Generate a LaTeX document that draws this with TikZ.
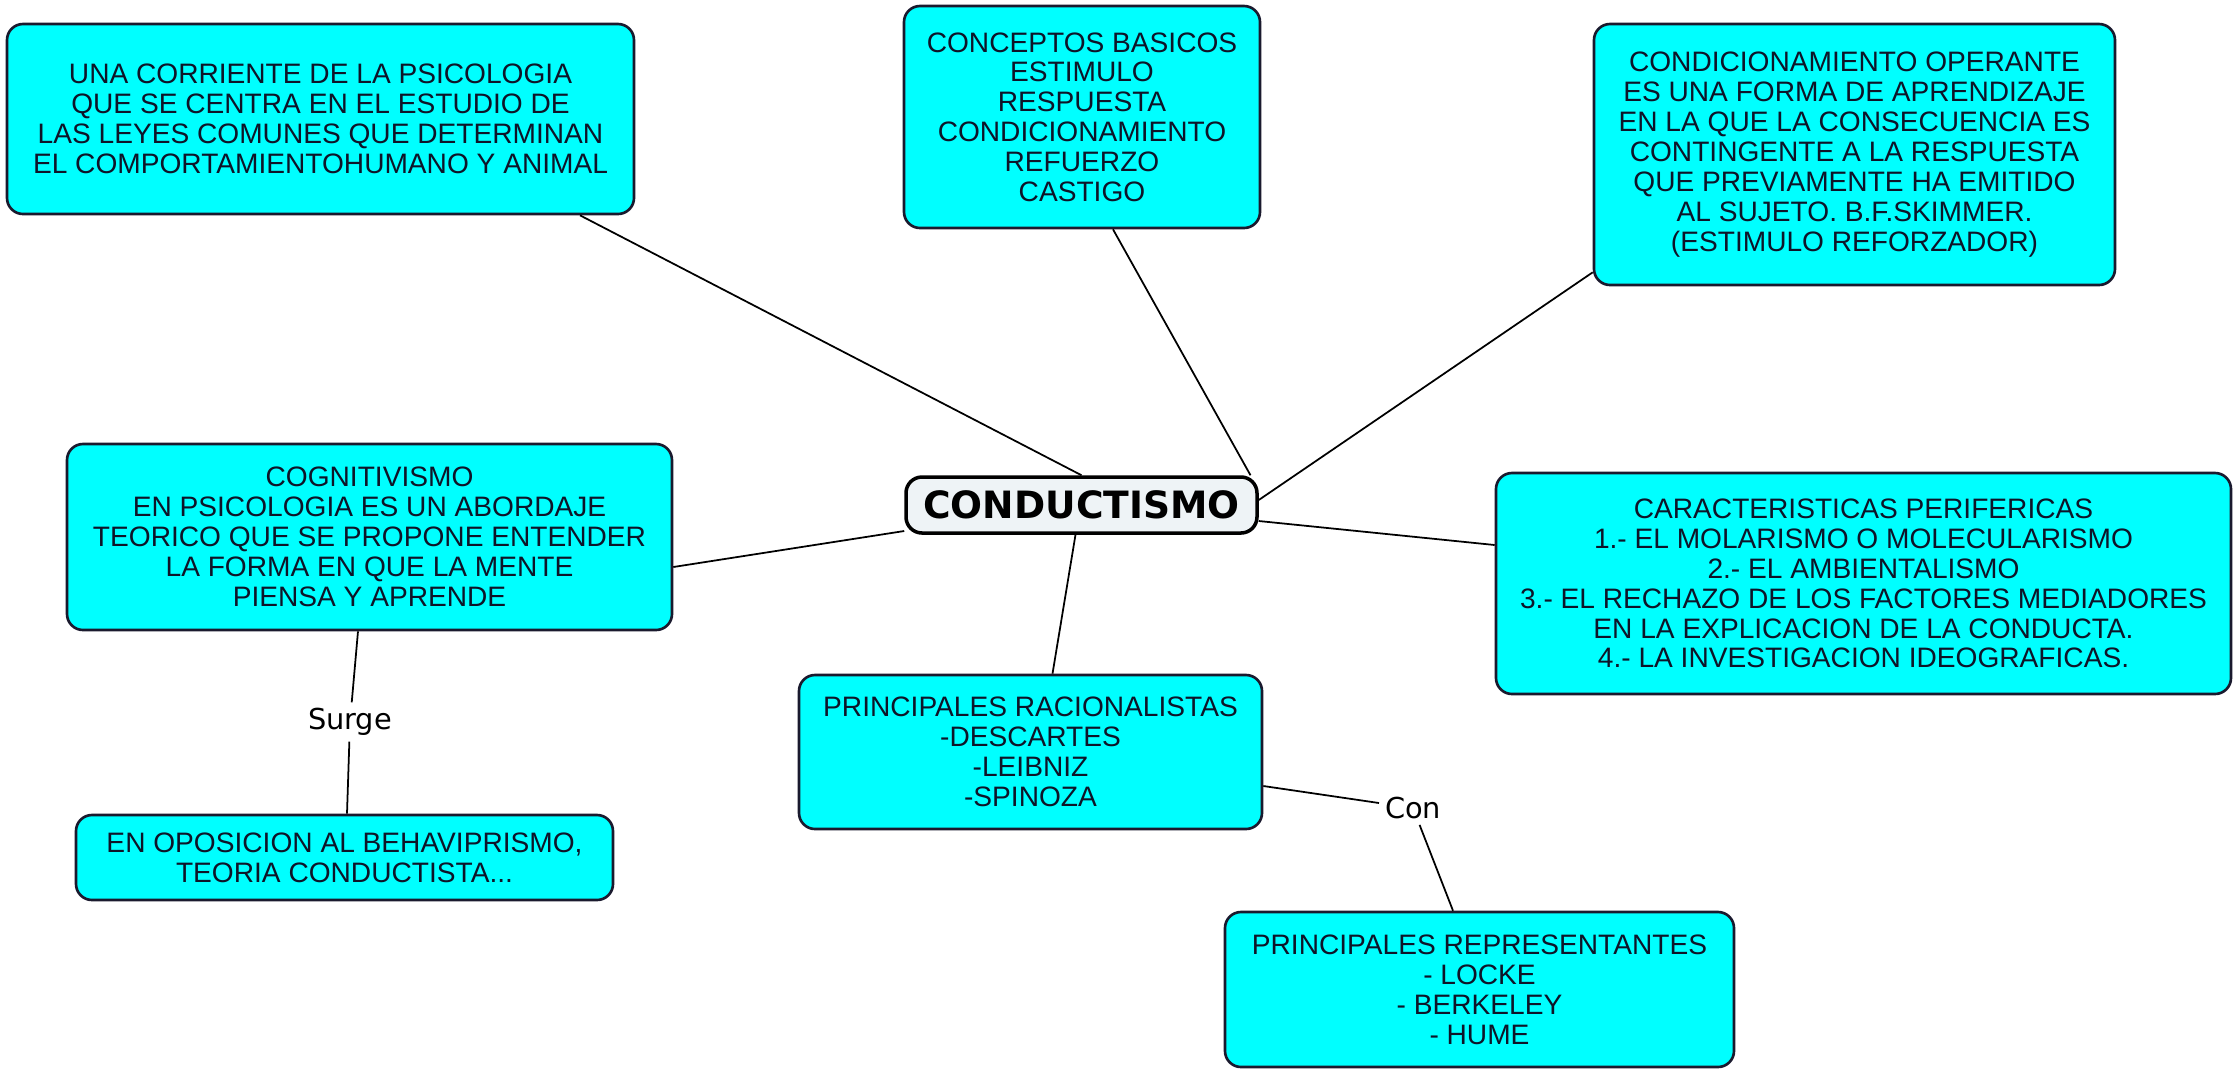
\documentclass[tikz,border=0pt]{standalone}
\usepackage{fontspec}
\setmainfont{Liberation Sans}
\newfontfamily\verdana{DejaVu Sans}
\usepackage{tikz}
\usetikzlibrary{calc}

\definecolor{boxcyan}{HTML}{00FFFF}
\definecolor{hubfill}{HTML}{EEF3F6}
\definecolor{edgedark}{HTML}{1A1A2E}
\definecolor{inkdark}{HTML}{0E1428}

\begin{document}
\begin{tikzpicture}[
    x=0.1mm, y=-0.1mm,
    box/.style={rectangle, draw=edgedark, line width=0.75pt, fill=boxcyan, text=inkdark, rounded corners=1.6mm, align=center, inner sep=0pt, font=\fontsize{8}{8.5}\selectfont},
    hub/.style={rectangle, draw=black, line width=1pt, fill=hubfill, rounded corners=1.6mm, minimum width=35.1mm, minimum height=5.6mm, font=\verdana\bfseries\fontsize{10.7}{12}\selectfont},
    link/.style={draw=black, line width=0.5pt},
    lbl/.style={inner sep=1.5pt, font=\verdana\fontsize{8.2}{10}\selectfont}
]
    \useasboundingbox (0,0) rectangle (2234,1072);

    \node[hub] (cond) at (1081.5,505) {CONDUCTISMO};

    \node[box, minimum width=62.7mm, minimum height=19mm] (corriente) at (320.5,119)
        {UNA CORRIENTE DE LA PSICOLOGIA\\QUE SE CENTRA EN EL ESTUDIO DE\\LAS LEYES COMUNES QUE DETERMINAN\\EL COMPORTAMIENTOHUMANO Y ANIMAL};
    \node[box, minimum width=35.6mm, minimum height=22.2mm] (conceptos) at (1082,117)
        {CONCEPTOS BASICOS\\ESTIMULO\\RESPUESTA\\CONDICIONAMIENTO\\REFUERZO\\CASTIGO};
    \node[box, minimum width=52.1mm, minimum height=26.1mm] (operante) at (1854.5,154.5)
        {CONDICIONAMIENTO OPERANTE\\ES UNA FORMA DE APRENDIZAJE\\EN LA QUE LA CONSECUENCIA ES\\CONTINGENTE A LA RESPUESTA\\QUE PREVIAMENTE HA EMITIDO\\AL SUJETO. B.F.SKIMMER.\\(ESTIMULO REFORZADOR)};
    \node[box, minimum width=60.5mm, minimum height=18.6mm] (cogni) at (369.5,537)
        {COGNITIVISMO\\EN PSICOLOGIA ES UN ABORDAJE\\TEORICO QUE SE PROPONE ENTENDER\\LA FORMA EN QUE LA MENTE\\PIENSA Y APRENDE};
    \node[box, minimum width=73.5mm, minimum height=22.1mm] (perifericas) at (1863.5,583.5)
        {CARACTERISTICAS PERIFERICAS\\1.- EL MOLARISMO O MOLECULARISMO\\2.- EL AMBIENTALISMO\\3.- EL RECHAZO DE LOS FACTORES MEDIADORES\\EN LA EXPLICACION DE LA CONDUCTA.\\4.- LA INVESTIGACION IDEOGRAFICAS.};
    \node[box, minimum width=46.3mm, minimum height=15.4mm] (racional) at (1030.5,752)
        {PRINCIPALES RACIONALISTAS\\-DESCARTES\\-LEIBNIZ\\-SPINOZA};
    \node[box, minimum width=53.7mm, minimum height=8.5mm] (oposicion) at (344.5,857.5)
        {EN OPOSICION AL BEHAVIPRISMO,\\TEORIA CONDUCTISTA...};
    \node[box, minimum width=50.9mm, minimum height=15.5mm] (representantes) at (1479.5,989.5)
        {PRINCIPALES REPRESENTANTES\\- LOCKE\\- BERKELEY\\- HUME};

    % ramas del nodo central
    \draw[link] ($(corriente.south)+(259.5,0)$) -- (cond.north);
    \draw[link] ($(conceptos.south)+(31,0)$) -- ($(cond.north)+(169,0)$);
    \draw[link] ($(operante.south west)+(0,-14)$) -- ($(cond.east)+(0,-5)$);
    \draw[link] ($(cogni.east)+(0,30)$) -- ($(cond.west)+(0,26)$);
    \draw[link] ($(cond.east)+(0,16)$) -- ($(perifericas.west)+(0,-38.5)$);
    \draw[link] ($(cond.south)+(-6,0)$) -- ($(racional.north)+(22,0)$);

    % enlaces con etiqueta
    \node[lbl] (surge) at (350,722) {Surge};
    \draw[link] ($(cogni.south)+(-11.5,0)$) -- (surge) -- ($(oposicion.north)+(2.5,0)$);
    \node[lbl] (con) at (1413,808) {Con};
    \draw[link] ($(racional.east)+(0,34)$) -- (con) -- ($(representantes.north)+(-26.5,0)$);
\end{tikzpicture}
\end{document}
